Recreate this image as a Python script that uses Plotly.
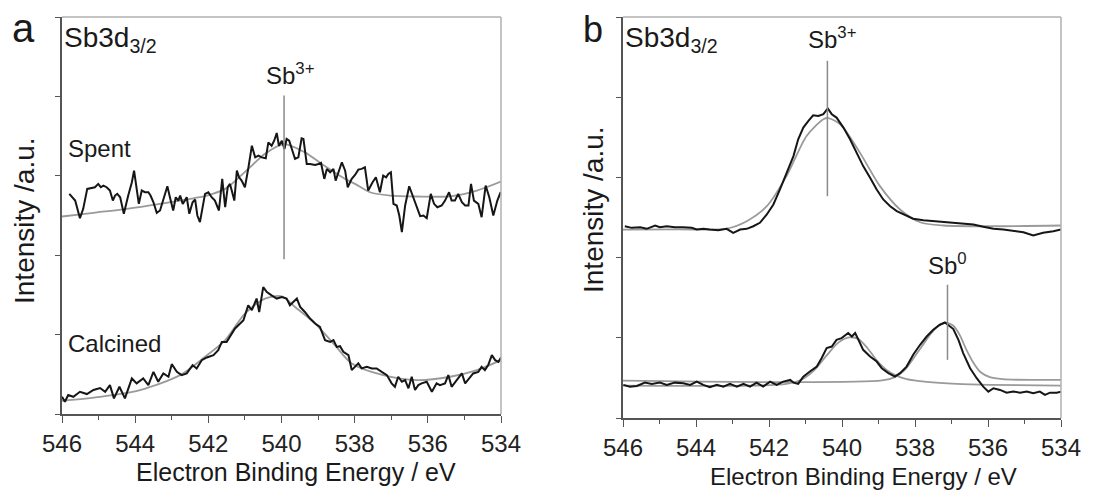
import plotly.graph_objects as go

# ---------------- Panel a : Sb3d3/2, spent and calcined catalyst ----------------
spent_energy = [545.80, 545.64, 545.51, 545.42, 545.31, 545.19, 545.10, 545.01, 544.94, 544.87,
                544.78, 544.69, 544.61, 544.55, 544.49, 544.41, 544.31, 544.19, 544.09, 544.03,
                543.96, 543.90, 543.82, 543.73, 543.64, 543.58, 543.50, 543.41, 543.32, 543.23,
                543.12, 543.05, 542.96, 542.89, 542.82, 542.77, 542.70, 542.64, 542.59, 542.52,
                542.43, 542.36, 542.30, 542.23, 542.15, 542.09, 542.00, 541.91, 541.82, 541.71,
                541.62, 541.54, 541.47, 541.41, 541.36, 541.29, 541.22, 541.16, 541.09, 541.00,
                540.91, 540.81, 540.72, 540.63, 540.54, 540.43, 540.36, 540.27, 540.20, 540.13,
                540.07, 539.99, 539.92, 539.86, 539.79, 539.70, 539.63, 539.54, 539.45, 539.40,
                539.31, 539.22, 539.08, 538.99, 538.92, 538.83, 538.76, 538.67, 538.58, 538.52,
                538.45, 538.35, 538.26, 538.19, 538.08, 537.99, 537.90, 537.81, 537.72, 537.63,
                537.51, 537.42, 537.31, 537.22, 537.14, 537.08, 537.01, 536.94, 536.85, 536.78,
                536.71, 536.62, 536.51, 536.40, 536.30, 536.21, 536.12, 536.03, 535.92, 535.83,
                535.74, 535.62, 535.53, 535.42, 535.35, 535.26, 535.17, 535.07, 534.98, 534.89,
                534.82, 534.74, 534.62, 534.53, 534.42, 534.32, 534.21, 534.10, 534.01]
spent_counts = [2.773, 2.688, 2.466, 2.584, 2.835, 2.843, 2.856, 2.898, 2.856, 2.877,
                2.856, 2.814, 2.688, 2.751, 2.773, 2.730, 2.521, 2.751, 2.918, 3.065,
                2.835, 2.647, 2.814, 2.793, 2.793, 2.751, 2.667, 2.534, 2.563, 2.710,
                2.868, 2.730, 2.563, 2.730, 2.688, 2.751, 2.647, 2.688, 2.730, 2.521,
                2.667, 2.701, 2.500, 2.416, 2.604, 2.773, 2.793, 2.730, 2.688, 2.563,
                2.961, 2.604, 2.856, 2.898, 2.814, 2.688, 3.065, 2.981, 2.940, 2.856,
                3.087, 3.379, 3.232, 3.254, 3.232, 3.220, 3.421, 3.379, 3.442, 3.539,
                3.379, 3.442, 3.338, 3.464, 3.442, 3.295, 3.212, 3.232, 3.471, 3.464,
                3.149, 3.149, 3.137, 3.149, 3.162, 2.961, 3.087, 3.044, 3.087, 2.940,
                3.024, 3.170, 3.065, 2.856, 2.961, 3.011, 3.078, 3.087, 3.107, 2.814,
                2.918, 2.981, 2.793, 3.003, 2.981, 3.024, 3.044, 2.647, 2.626, 2.500,
                2.290, 2.626, 2.868, 2.730, 2.626, 2.491, 2.500, 2.466, 2.773, 2.647,
                2.604, 2.626, 2.688, 2.793, 2.688, 2.688, 2.773, 2.667, 2.626, 2.626,
                2.898, 2.688, 2.647, 2.479, 2.877, 2.730, 2.500, 2.688, 2.793]

spent_fit_energy = [546.00, 545.14, 544.23, 543.32, 542.41, 542.09, 541.54, 540.91, 540.45, 539.93,
                    539.36, 538.90, 538.26, 537.99, 537.58, 537.03, 536.30, 535.39, 534.66, 534.00]
spent_fit_counts = [2.487, 2.534, 2.584, 2.647, 2.717, 2.745, 2.835, 3.087, 3.279, 3.400,
                    3.295, 3.149, 2.961, 2.898, 2.793, 2.751, 2.739, 2.742, 2.814, 2.927]

calc_energy = [546.00, 545.92, 545.83, 545.69, 545.51, 545.32, 545.14, 544.96, 544.82, 544.69,
               544.58, 544.43, 544.28, 544.09, 543.96, 543.78, 543.64, 543.50, 543.37, 543.23,
               543.09, 543.00, 542.86, 542.73, 542.59, 542.43, 542.32, 542.18, 542.04, 541.86,
               541.73, 541.63, 541.50, 541.41, 541.27, 541.18, 541.04, 540.91, 540.81, 540.68,
               540.61, 540.50, 540.40, 540.27, 540.13, 539.99, 539.86, 539.77, 539.58, 539.49,
               539.36, 539.22, 539.08, 538.95, 538.81, 538.67, 538.58, 538.49, 538.40, 538.31,
               538.17, 538.08, 537.99, 537.90, 537.81, 537.67, 537.53, 537.40, 537.26, 537.12,
               536.99, 536.90, 536.81, 536.71, 536.62, 536.53, 536.44, 536.35, 536.26, 536.17,
               536.03, 535.89, 535.76, 535.67, 535.53, 535.44, 535.35, 535.21, 535.07, 534.98,
               534.85, 534.76, 534.62, 534.53, 534.44, 534.35, 534.25, 534.16, 534.07, 534.00]
calc_counts = [0.217, 0.155, 0.239, 0.217, 0.280, 0.251, 0.302, 0.327, 0.280, 0.364,
               0.197, 0.343, 0.197, 0.448, 0.386, 0.448, 0.364, 0.531, 0.406, 0.511,
               0.469, 0.628, 0.531, 0.490, 0.511, 0.616, 0.574, 0.678, 0.712, 0.741,
               0.804, 0.908, 0.908, 0.971, 1.077, 1.118, 1.181, 1.369, 1.307, 1.454,
               1.285, 1.599, 1.536, 1.495, 1.454, 1.474, 1.454, 1.369, 1.454, 1.348,
               1.285, 1.202, 1.139, 1.097, 0.930, 0.908, 0.930, 0.845, 0.854, 0.783,
               0.741, 0.553, 0.594, 0.637, 0.574, 0.594, 0.574, 0.574, 0.531, 0.490,
               0.386, 0.343, 0.469, 0.406, 0.427, 0.323, 0.469, 0.302, 0.364, 0.386,
               0.406, 0.280, 0.386, 0.364, 0.386, 0.490, 0.343, 0.427, 0.511, 0.386,
               0.469, 0.511, 0.531, 0.594, 0.553, 0.616, 0.741, 0.678, 0.657, 0.712]

calc_fit_energy = [546.00, 544.96, 543.87, 542.77, 542.09, 541.54, 541.00, 540.45, 539.99, 539.63,
                   539.08, 538.54, 538.08, 537.22, 536.30, 535.39, 534.66, 534.00]
calc_fit_counts = [0.167, 0.217, 0.302, 0.490, 0.720, 0.930, 1.265, 1.454, 1.482, 1.348,
                   1.139, 0.867, 0.637, 0.490, 0.427, 0.469, 0.553, 0.678]

# Sb3+ position marker for panel a
a_marker_energy = 539.93
a_marker_span = [1.95, 4.01]

# ---------------- Panel b : Sb3d3/2, two samples with Sb3+ / Sb0 components ----------------
top_energy = [545.95, 545.76, 545.53, 545.35, 545.12, 544.99, 544.80, 544.58, 544.35, 544.12,
              543.98, 543.80, 543.62, 543.39, 543.16, 542.98, 542.79, 542.61, 542.43, 542.25,
              542.06, 541.88, 541.70, 541.52, 541.33, 541.20, 541.06, 540.92, 540.79, 540.65,
              540.51, 540.39, 540.28, 540.15, 539.96, 539.78, 539.60, 539.42, 539.23, 539.05,
              538.87, 538.68, 538.50, 538.23, 538.05, 537.77, 537.50, 537.22, 536.95, 536.68,
              536.40, 536.13, 535.85, 535.58, 535.31, 535.03, 534.76, 534.49, 534.21, 534.00]
top_counts = [2.391, 2.371, 2.379, 2.359, 2.400, 2.379, 2.391, 2.379, 2.379, 2.371,
              2.350, 2.359, 2.350, 2.341, 2.359, 2.309, 2.350, 2.359, 2.391, 2.434,
              2.538, 2.663, 2.850, 3.059, 3.266, 3.475, 3.621, 3.704, 3.775, 3.766,
              3.788, 3.859, 3.788, 3.746, 3.621, 3.475, 3.309, 3.141, 2.996, 2.850,
              2.725, 2.641, 2.579, 2.516, 2.484, 2.466, 2.454, 2.441, 2.434, 2.425,
              2.413, 2.384, 2.359, 2.350, 2.329, 2.316, 2.275, 2.309, 2.329, 2.350]

top_fit_energy = [546.00, 544.50, 543.16, 542.61, 542.06, 541.52, 540.97, 540.51, 540.38, 540.05,
                  539.51, 538.96, 538.41, 537.86, 537.22, 535.85, 534.00]
top_fit_counts = [2.350, 2.352, 2.362, 2.454, 2.641, 3.016, 3.516, 3.725, 3.740, 3.663,
                  3.309, 2.891, 2.600, 2.441, 2.400, 2.391, 2.400]

low_energy = [545.99, 545.81, 545.62, 545.40, 545.21, 544.99, 544.80, 544.58, 544.35, 544.16,
              543.98, 543.80, 543.62, 543.43, 543.25, 543.07, 542.88, 542.70, 542.52, 542.34,
              542.16, 541.97, 541.79, 541.61, 541.42, 541.33, 541.20, 541.06, 540.88, 540.69,
              540.56, 540.42, 540.28, 540.15, 540.01, 539.83, 539.73, 539.64, 539.55, 539.42,
              539.23, 539.05, 538.91, 538.73, 538.55, 538.41, 538.23, 538.05, 537.86, 537.68,
              537.50, 537.32, 537.18, 537.04, 536.95, 536.81, 536.68, 536.49, 536.31, 536.13,
              535.99, 535.85, 535.67, 535.49, 535.31, 535.12, 534.94, 534.76, 534.58, 534.44,
              534.30, 534.12, 534.00]
low_counts = [0.413, 0.391, 0.400, 0.441, 0.425, 0.441, 0.413, 0.441, 0.434, 0.413,
              0.454, 0.413, 0.384, 0.413, 0.391, 0.425, 0.391, 0.425, 0.391, 0.441,
              0.391, 0.454, 0.413, 0.454, 0.475, 0.441, 0.425, 0.516, 0.579, 0.641,
              0.746, 0.871, 0.891, 0.975, 0.996, 1.059, 1.016, 1.059, 0.975, 0.850,
              0.766, 0.704, 0.621, 0.559, 0.516, 0.559, 0.641, 0.788, 0.913, 1.016,
              1.100, 1.163, 1.191, 1.134, 1.109, 0.975, 0.809, 0.621, 0.496, 0.391,
              0.329, 0.371, 0.350, 0.316, 0.329, 0.316, 0.329, 0.309, 0.329, 0.288,
              0.316, 0.316, 0.329]

# Fitted components of the lower spectrum
sb3_fit_energy = [546.00, 542.50, 541.52, 541.10, 540.75, 540.42, 540.10, 539.80, 539.55, 539.30,
                  539.05, 538.78, 538.50, 538.23, 537.68, 536.86, 535.95, 534.00]
sb3_fit_counts = [0.404, 0.404, 0.425, 0.480, 0.600, 0.780, 0.940, 1.005, 0.985, 0.870,
                  0.720, 0.600, 0.525, 0.484, 0.450, 0.425, 0.413, 0.404]
sb0_fit_energy = [546.00, 538.90, 538.55, 538.30, 538.05, 537.80, 537.55, 537.32, 537.12, 536.95,
                  536.78, 536.60, 536.40, 536.20, 535.95, 535.60, 535.20, 534.00]
sb0_fit_counts = [0.465, 0.468, 0.510, 0.590, 0.740, 0.900, 1.060, 1.160, 1.185, 1.150,
                  1.040, 0.860, 0.690, 0.570, 0.510, 0.485, 0.477, 0.475]

# Peak position markers for panel b
b_sb3_energy = 540.40
b_sb3_span = [2.766, 4.454]
b_sb0_energy = 537.11
b_sb0_span = [0.725, 1.662]

# ---------------- figure ----------------
W, H = 1094, 491
M_T, M_B = 17, 73
PLOT_H = H - M_T - M_B

DATA_COLOR = "#161616"
FIT_COLOR = "#9a9a9a"
MARK_COLOR = "#8a8a8a"
AXIS_COLOR = "#555555"
FRAME_COLOR = "#b0b0b0"
FONT = "Liberation Sans, Arial, sans-serif"


def px_x(px):
    return px / W


def px_y(py):
    return (H - M_B - py) / PLOT_H


fig = go.Figure()


def add_line(x, y, xa, ya, color, width, shape="linear"):
    fig.add_trace(go.Scatter(
        x=x, y=y, xaxis=xa, yaxis=ya, mode="lines",
        line=dict(color=color, width=width, shape=shape, smoothing=0.8),
        hoverinfo="skip", showlegend=False))


# panel a
add_line(spent_fit_energy, spent_fit_counts, "x", "y", FIT_COLOR, 1.8, "spline")
add_line(calc_fit_energy, calc_fit_counts, "x", "y", FIT_COLOR, 1.8, "spline")
add_line(spent_energy, spent_counts, "x", "y", DATA_COLOR, 2)
add_line(calc_energy, calc_counts, "x", "y", DATA_COLOR, 2)
add_line([a_marker_energy, a_marker_energy], a_marker_span, "x", "y", MARK_COLOR, 1.5)

# panel b
add_line(top_fit_energy, top_fit_counts, "x2", "y2", FIT_COLOR, 1.8, "spline")
add_line(sb3_fit_energy, sb3_fit_counts, "x2", "y2", FIT_COLOR, 1.8, "spline")
add_line(sb0_fit_energy, sb0_fit_counts, "x2", "y2", FIT_COLOR, 1.8, "spline")
add_line(top_energy, top_counts, "x2", "y2", DATA_COLOR, 2)
add_line(low_energy, low_counts, "x2", "y2", DATA_COLOR, 2)
add_line([b_sb3_energy, b_sb3_energy], b_sb3_span, "x2", "y2", MARK_COLOR, 1.5)
add_line([b_sb0_energy, b_sb0_energy], b_sb0_span, "x2", "y2", MARK_COLOR, 1.5)

energy_ticks = [546, 544, 542, 540, 538, 536, 534]

xaxis_common = dict(
    range=[546, 534], tickvals=energy_ticks, ticktext=[str(t) for t in energy_ticks],
    showline=True, linecolor=AXIS_COLOR, linewidth=1.5,
    ticks="outside", ticklen=7, tickwidth=1.3, tickcolor=AXIS_COLOR,
    minor=dict(dtick=1, ticks="outside", ticklen=4, tickwidth=1.2, tickcolor=AXIS_COLOR),
    tickfont=dict(family=FONT, size=24, color="#222222"),
    showgrid=False, zeroline=False, fixedrange=True, automargin=False,
)
yaxis_common = dict(
    range=[0, 5], tickvals=[0, 1, 2, 3, 4, 5], showticklabels=False,
    showline=True, linecolor=AXIS_COLOR, linewidth=1.5,
    ticks="outside", ticklen=5, tickwidth=1.3, tickcolor=AXIS_COLOR,
    showgrid=False, zeroline=False, fixedrange=True, automargin=False,
)

fig.update_layout(
    width=W, height=H,
    margin=dict(l=0, r=0, t=M_T, b=M_B, autoexpand=False),
    paper_bgcolor="white", plot_bgcolor="white",
    showlegend=False,
    xaxis=dict(domain=[px_x(62), px_x(501)], anchor="y", **xaxis_common),
    yaxis=dict(domain=[px_y(414), 1], anchor="x", **yaxis_common),
    xaxis2=dict(domain=[px_x(623), px_x(1061)], anchor="y2", **xaxis_common),
    yaxis2=dict(domain=[0, 1], anchor="x2", **yaxis_common),
)

# light top / right frame of each panel
for xr, yr in (("x domain", "y domain"), ("x2 domain", "y2 domain")):
    fig.add_shape(type="line", xref=xr, yref=yr, x0=0, x1=1, y0=1, y1=1,
                  line=dict(color=FRAME_COLOR, width=1.5))
    fig.add_shape(type="line", xref=xr, yref=yr, x0=1, x1=1, y0=0, y1=1,
                  line=dict(color=FRAME_COLOR, width=1.5))


def text(s, px, py, size, xanchor="center", yanchor="middle", angle=0):
    fig.add_annotation(
        text=s, xref="paper", yref="paper", x=px_x(px), y=px_y(py),
        xanchor=xanchor, yanchor=yanchor, textangle=angle, showarrow=False,
        font=dict(family=FONT, size=size, color="#1a1a1a"), borderpad=0)


# panel letters
text("a", 23.5, 28, 40)
text("b", 592.5, 30, 36)

# core-level labels
text("Sb3d<sub>3/2</sub>", 63, 39, 28, xanchor="left")
text("Sb3d<sub>3/2</sub>", 624, 39, 28, xanchor="left")

# sample labels
text("Spent", 67, 148, 24, xanchor="left")
text("Calcined", 67, 343, 24, xanchor="left")

# peak labels
text("Sb<sup>3+</sup>", 291, 74, 24)
text("Sb<sup>3+</sup>", 832, 38, 24)
text("Sb<sup>0</sup>", 947.5, 264, 24)

# axis titles
text("Electron Binding Energy / eV", 296, 472, 25)
text("Electron Binding Energy / eV", 863, 476, 24)
text("Intensity /a.u.", 24, 221, 28, angle=-90)
text("Intensity /a.u.", 593, 210, 28, angle=-90)

fig.write_html("out.html")
